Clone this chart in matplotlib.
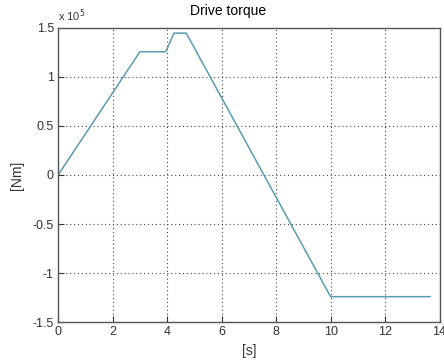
import matplotlib
matplotlib.use("Agg")
import matplotlib.pyplot as plt
from matplotlib.ticker import FuncFormatter

# time [s] and drive torque [Nm]
t = [0, 3.0, 3.95, 4.25, 4.7, 10.0, 13.65]
torque = [0, 1.255e5, 1.255e5, 1.445e5, 1.445e5, -1.24e5, -1.24e5]

xticks = [0, 2, 4, 6, 8, 10, 12, 14]
yticks = [-1.5e5, -1e5, -0.5e5, 0, 0.5e5, 1e5, 1.5e5]

plt.rcParams['font.family'] = ['Liberation Sans', 'DejaVu Sans']

fig = plt.figure(figsize=(4.44, 3.6), dpi=100)
ax = fig.add_axes([0.131, 0.105, 0.859, 0.818])

ax.plot(t, torque, color='#5b9bb3', linewidth=1.1)

ax.set_xlim(0, 14)
ax.set_ylim(-1.5e5, 1.5e5)
ax.set_xticks(xticks)
ax.set_yticks(yticks)
ax.yaxis.set_major_formatter(FuncFormatter(lambda v, p: '%g' % (v / 1e5)))

ax.grid(True, linestyle=(0, (1, 2.5)), color='#444444', linewidth=0.8)
ax.tick_params(direction='in', length=4, labelsize=9, colors='#333333', pad=3)
for s in ax.spines.values():
    s.set_color('#555555')
    s.set_linewidth(1.0)

ax.text(0.0, 1.012, 'x 10$^5$', transform=ax.transAxes, fontsize=8,
        color='#333333', ha='left', va='bottom')
ax.set_title('Drive torque', fontsize=10, x=0.445, pad=9)
ax.set_xlabel('[s]', fontsize=10, color='#333333', labelpad=4)
ax.set_ylabel('[Nm]', fontsize=10, color='#333333', labelpad=6)

fig.savefig('out.png', dpi=100)
